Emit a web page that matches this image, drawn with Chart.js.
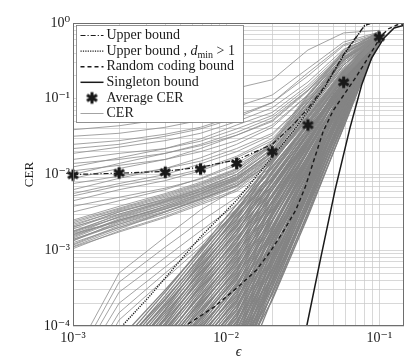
<!DOCTYPE html>
<html>
<head>
<meta charset="utf-8">
<script src="https://cdn.jsdelivr.net/npm/chart.js@4.4.1/dist/chart.umd.min.js"></script>
<style>
  html, body { margin: 0; padding: 0; background: #fff; }
</style>
</head>
<body>
<canvas id="cerChart" width="411" height="358"></canvas>
<script>
// erasure probabilities where the CER of each code was simulated
const epsPoints = [0.001, 0.002, 0.004, 0.0068, 0.0117, 0.02, 0.0342, 0.0585, 0.1];
const avgCer = [0.0098, 0.0105, 0.0107, 0.0118, 0.014, 0.020, 0.045, 0.165, 0.65];

// bounds
const upperX = [0.001, 0.002, 0.004, 0.0068, 0.01175, 0.02, 0.0273, 0.0342, 0.0444, 0.0597, 0.0802, 0.0891, 0.15];
const upperY = [0.0100, 0.0104, 0.0110, 0.0125, 0.0156, 0.025, 0.045, 0.074, 0.15, 0.41, 0.93, 1.0, 1.0];
const upperD2X = [0.001, 0.00209, 0.00312, 0.0068, 0.01175, 0.02, 0.0273, 0.0342, 0.0444, 0.0597, 0.0802, 0.0891, 0.15];
const upperD2Y = [1.8e-5, 1e-4, 2.4e-4, 1.5e-3, 4.6e-3, 0.017, 0.037, 0.068, 0.145, 0.40, 0.92, 1.0, 1.0];
const randomX = [0.002, 0.0054, 0.0084, 0.0118, 0.0158, 0.0197, 0.0245, 0.0285, 0.033, 0.038, 0.043, 0.05, 0.06, 0.07, 0.08, 0.093, 0.103, 0.115, 0.13, 0.15];
const randomY = [2.5e-5, 1e-4, 1.8e-4, 3.2e-4, 5.5e-4, 1e-3, 2e-3, 3.4e-3, 7e-3, 0.017, 0.037, 0.07, 0.12, 0.19, 0.29, 0.48, 0.68, 0.84, 0.94, 0.98];
const singletonX = [0.028, 0.0336, 0.0415, 0.0515, 0.0643, 0.0767, 0.0891, 0.107, 0.125, 0.15];
const singletonY = [1.8e-5, 1e-4, 8e-4, 6.3e-3, 0.041, 0.152, 0.345, 0.63, 0.86, 0.95];

// CER of individual codes (one row per code, values at epsPoints)
const cerUpper = [
  [0.039, 0.044, 0.054, 0.076, 0.138, 0.178, 0.44, 0.74, 0.8],
  [0.032, 0.035, 0.042, 0.052, 0.079, 0.112, 0.25, 0.56, 0.76],
  [0.025, 0.028, 0.034, 0.042, 0.06, 0.089, 0.2, 0.5, 0.71],
  [0.019, 0.023, 0.028, 0.035, 0.05, 0.076, 0.166, 0.45, 0.72],
  [0.0158, 0.019, 0.022, 0.0275, 0.04, 0.06, 0.14, 0.4, 0.68],
  [0.0126, 0.0166, 0.022, 0.0295, 0.045, 0.066, 0.15, 0.42, 0.69],
  [0.0112, 0.0132, 0.0158, 0.02, 0.028, 0.045, 0.112, 0.35, 0.66],
  [0.0089, 0.012, 0.0158, 0.022, 0.033, 0.05, 0.126, 0.38, 0.71],
  [0.0076, 0.0095, 0.012, 0.015, 0.022, 0.035, 0.095, 0.32, 0.65],
  [0.0063, 0.0089, 0.012, 0.0166, 0.025, 0.042, 0.112, 0.36, 0.72],
  [0.0052, 0.0071, 0.0091, 0.0117, 0.0174, 0.03, 0.089, 0.32, 0.68],
  [0.0045, 0.0063, 0.0083, 0.0112, 0.0166, 0.028, 0.079, 0.28, 0.63],
  [0.0038, 0.005, 0.0066, 0.0087, 0.0132, 0.024, 0.076, 0.3, 0.69],
  [0.0032, 0.0045, 0.0063, 0.0089, 0.014, 0.026, 0.089, 0.33, 0.71],
  [0.022, 0.025, 0.032, 0.04, 0.056, 0.089, 0.22, 0.52, 0.74],
  [0.01, 0.014, 0.019, 0.025, 0.036, 0.056, 0.13, 0.4, 0.69],
  [0.0056, 0.0076, 0.01, 0.0138, 0.02, 0.033, 0.1, 0.34, 0.66],
  [0.014, 0.0158, 0.019, 0.024, 0.033, 0.052, 0.13, 0.4, 0.71]
];
const cerBand = [
  [1.05e-3, 1.8e-3, 2.8e-3, 4.2e-3, 6.3e-3, 0.014, 0.056, 0.24, 0.63],
  [1.12e-3, 1.9e-3, 3.2e-3, 4.8e-3, 7.6e-3, 0.0166, 0.063, 0.28, 0.71],
  [1.2e-3, 2.1e-3, 3.2e-3, 4.6e-3, 7.1e-3, 0.0178, 0.079, 0.32, 0.66],
  [1.26e-3, 2e-3, 3e-3, 4.4e-3, 6.9e-3, 0.015, 0.05, 0.21, 0.6],
  [1.32e-3, 2.4e-3, 3.8e-3, 5.5e-3, 8.7e-3, 0.02, 0.089, 0.35, 0.76],
  [1.38e-3, 2.3e-3, 3.5e-3, 5e-3, 7.9e-3, 0.0174, 0.066, 0.26, 0.69],
  [1.45e-3, 2.5e-3, 3.7e-3, 5.2e-3, 7.6e-3, 0.0158, 0.06, 0.25, 0.63],
  [1.5e-3, 2.6e-3, 4e-3, 6e-3, 9.5e-3, 0.022, 0.095, 0.38, 0.79],
  [1.6e-3, 2.5e-3, 3.6e-3, 5.4e-3, 8.3e-3, 0.018, 0.071, 0.28, 0.68],
  [1.6e-3, 2.8e-3, 4.4e-3, 6.3e-3, 0.01, 0.024, 0.105, 0.4, 0.72],
  [1.7e-3, 2.75e-3, 4.2e-3, 5.8e-3, 8.7e-3, 0.019, 0.072, 0.3, 0.65],
  [1.74e-3, 3e-3, 4.5e-3, 6.5e-3, 0.01, 0.021, 0.083, 0.32, 0.74],
  [1.8e-3, 2.9e-3, 4.3e-3, 6e-3, 9.1e-3, 0.02, 0.076, 0.25, 0.62],
  [1.9e-3, 3.2e-3, 4.8e-3, 6.9e-3, 0.0107, 0.025, 0.11, 0.42, 0.78],
  [2e-3, 3.2e-3, 4.6e-3, 6.3e-3, 9.3e-3, 0.019, 0.069, 0.28, 0.68],
  [2.1e-3, 3.4e-3, 5e-3, 7.2e-3, 0.011, 0.024, 0.091, 0.35, 0.71],
  [2.2e-3, 3.3e-3, 4.7e-3, 6.6e-3, 0.01, 0.022, 0.089, 0.33, 0.66],
  [2.3e-3, 3.5e-3, 5.2e-3, 7.4e-3, 0.0115, 0.026, 0.11, 0.4, 0.76],
  [2.4e-3, 3.6e-3, 5.4e-3, 7.6e-3, 0.0117, 0.025, 0.1, 0.35, 0.69],
  [2.5e-3, 3.8e-3, 5.6e-3, 7.9e-3, 0.012, 0.0275, 0.115, 0.44, 0.74],
  [1.17e-3, 2e-3, 3.2e-3, 4.7e-3, 7.2e-3, 0.0158, 0.06, 0.23, 0.59],
  [1.4e-3, 2.2e-3, 3.3e-3, 4.7e-3, 7.1e-3, 0.0148, 0.052, 0.2, 0.575],
  [1.55e-3, 2.5e-3, 3.8e-3, 5.6e-3, 8.9e-3, 0.02, 0.083, 0.33, 0.71],
  [1.78e-3, 2.7e-3, 4e-3, 5.6e-3, 8.5e-3, 0.0174, 0.063, 0.24, 0.63],
  [1.1e-3, 1.74e-3, 2.7e-3, 4e-3, 6e-3, 0.0126, 0.05, 0.21, 0.6],
  [1.35e-3, 2.2e-3, 3.5e-3, 5.2e-3, 8.3e-3, 0.019, 0.079, 0.32, 0.69],
  [1.66e-3, 2.4e-3, 3.5e-3, 4.8e-3, 7.2e-3, 0.0145, 0.055, 0.22, 0.62],
  [2.04e-3, 3e-3, 4.4e-3, 6e-3, 9.1e-3, 0.02, 0.079, 0.32, 0.72]
];
const cerBetween = [
  [3.8e-5, 5e-4, 1.5e-3, 3.4e-3, 6.5e-3, 0.015, 0.055, 0.24, 0.66],
  [3e-5, 3.8e-4, 1.1e-3, 2.4e-3, 5e-3, 0.012, 0.048, 0.2, 0.63],
  [2.5e-5, 2.8e-4, 8e-4, 1.8e-3, 4e-3, 0.011, 0.045, 0.2, 0.62],
  [2e-5, 2e-4, 6e-4, 1.4e-3, 3.5e-3, 0.01, 0.042, 0.19, 0.6],
  [1.5e-5, 1.5e-4, 5e-4, 1.2e-3, 3.2e-3, 0.0105, 0.045, 0.21, 0.64],
  [1e-5, 1.2e-4, 4.2e-4, 1.1e-3, 3e-3, 0.01, 0.048, 0.22, 0.66]
];
const cerMassA = [
  [1e-5, 5.6e-5, 2.8e-4, 1.05e-3, 4.0e-3, 0.015, 0.055, 0.21, 0.76],
  [8.9e-6, 5e-5, 2.5e-4, 9.3e-4, 3.5e-3, 0.0129, 0.047, 0.18, 0.63],
  [7.9e-6, 4.5e-5, 2.2e-4, 8.3e-4, 3.2e-3, 0.0122, 0.047, 0.19, 0.71],
  [7e-6, 4e-5, 2e-4, 7.4e-4, 2.8e-3, 0.0106, 0.04, 0.158, 0.56],
  [6.3e-6, 3.5e-5, 1.8e-4, 6.6e-4, 2.5e-3, 0.0106, 0.045, 0.2, 0.79],
  [5.6e-6, 3.2e-5, 1.6e-4, 5.9e-4, 2.2e-3, 0.0093, 0.038, 0.17, 0.66],
  [5e-6, 2.8e-5, 1.4e-4, 5.2e-4, 2.0e-3, 0.0083, 0.035, 0.153, 0.6],
  [4.5e-6, 2.5e-5, 1.26e-4, 4.7e-4, 1.8e-3, 0.008, 0.036, 0.174, 0.74],
  [4e-6, 2.2e-5, 1.1e-4, 4.2e-4, 1.6e-3, 0.0072, 0.033, 0.158, 0.68],
  [3.5e-6, 2e-5, 1e-4, 3.7e-4, 1.4e-3, 0.0063, 0.0285, 0.136, 0.575],
  [3.2e-6, 1.8e-5, 8.9e-5, 3.3e-4, 1.26e-3, 0.0063, 0.031, 0.166, 0.78],
  [2.8e-6, 1.6e-5, 7.9e-5, 3e-4, 1.12e-3, 0.0055, 0.027, 0.14, 0.65],
  [2.5e-6, 1.4e-5, 7e-5, 2.6e-4, 1e-3, 0.0051, 0.0266, 0.147, 0.71],
  [2.2e-6, 1.26e-5, 6.3e-5, 2.3e-4, 8.9e-4, 0.0045, 0.023, 0.124, 0.59],
  [2e-6, 1.1e-5, 5.6e-5, 2.1e-4, 7.9e-4, 0.0044, 0.0245, 0.146, 0.76],
  [1.8e-6, 1e-5, 5e-5, 1.9e-4, 7.1e-4, 0.0039, 0.021, 0.124, 0.63],
  [1.6e-6, 8.9e-6, 4.5e-5, 1.66e-4, 6.3e-4, 0.0036, 0.021, 0.129, 0.69],
  [1.4e-6, 7.9e-6, 4e-5, 1.5e-4, 5.6e-4, 0.0032, 0.0178, 0.107, 0.56],
  [1.26e-6, 7e-6, 3.5e-5, 1.3e-4, 5e-4, 0.0032, 0.02, 0.136, 0.79],
  [1.1e-6, 6.3e-6, 3.2e-5, 1.2e-4, 4.5e-4, 0.0028, 0.0172, 0.115, 0.66],
  [1e-6, 5.6e-6, 2.8e-5, 1.05e-4, 4e-4, 0.0025, 0.0157, 0.106, 0.62],
  [8.9e-7, 5e-6, 2.5e-5, 9.3e-5, 3.5e-4, 0.0024, 0.016, 0.116, 0.72],
  [7.9e-7, 4.5e-6, 2.2e-5, 8.3e-5, 3.2e-4, 0.0021, 0.0146, 0.107, 0.68],
  [7e-7, 4e-6, 2e-5, 7.4e-5, 2.8e-4, 0.0019, 0.0127, 0.092, 0.575],
  [6.3e-7, 3.5e-6, 1.8e-5, 6.6e-5, 2.5e-4, 0.00186, 0.0138, 0.111, 0.76],
  [5.6e-7, 3.2e-6, 1.6e-5, 5.9e-5, 2.2e-4, 0.00164, 0.012, 0.095, 0.65],
  [5e-7, 2.8e-6, 1.4e-5, 5.2e-5, 2e-4, 0.00155, 0.0119, 0.1, 0.71],
  [4.5e-7, 2.5e-6, 1.26e-5, 4.7e-5, 1.8e-4, 0.00135, 0.0104, 0.086, 0.6],
  [4e-7, 2.2e-6, 1.1e-5, 4.2e-5, 1.6e-4, 0.0013, 0.0108, 0.098, 0.74],
  [3.5e-7, 2e-6, 1e-5, 3.7e-5, 1.4e-4, 0.00115, 0.0094, 0.084, 0.63],
  [3.2e-7, 1.8e-6, 8.9e-6, 3.3e-5, 1.26e-4, 0.00108, 0.0093, 0.0875, 0.69],
  [2.8e-7, 1.6e-6, 7.9e-6, 3e-5, 1.12e-4, 0.00094, 0.0079, 0.073, 0.56],
  [2.5e-7, 1.4e-6, 7e-6, 2.6e-5, 1e-4, 0.00093, 0.0088, 0.09, 0.78],
  [2.2e-7, 1.26e-6, 6.3e-6, 2.3e-5, 8.9e-5, 0.00083, 0.0077, 0.078, 0.66],
  [2e-7, 1.1e-6, 5.6e-6, 2.1e-5, 7.9e-5, 0.00074, 0.007, 0.072, 0.62],
  [1.8e-7, 1e-6, 5e-6, 1.9e-5, 7.1e-5, 0.00071, 0.0072, 0.079, 0.72],
  [1.6e-7, 8.9e-7, 4.5e-6, 1.66e-5, 6.3e-5, 0.00064, 0.0065, 0.073, 0.68],
  [1.4e-7, 7.9e-7, 4e-6, 1.5e-5, 5.6e-5, 0.00057, 0.0058, 0.064, 0.59],
  [1.26e-7, 7e-7, 3.5e-6, 1.3e-5, 5e-5, 0.00056, 0.0062, 0.075, 0.76],
  [1.1e-7, 6.3e-7, 3.2e-6, 1.2e-5, 4.5e-5, 0.00049, 0.0054, 0.065, 0.65],
  [1e-7, 5.6e-7, 2.8e-6, 1.05e-5, 4e-5, 0.00046, 0.0053, 0.068, 0.71],
  [8.9e-8, 5e-7, 2.5e-6, 9.3e-6, 3.5e-5, 0.00041, 0.0046, 0.058, 0.6],
  [7.9e-8, 4.5e-7, 2.2e-6, 8.3e-6, 3.2e-5, 0.00039, 0.0048, 0.066, 0.74],
  [7e-8, 4e-7, 2e-6, 7.4e-6, 2.8e-5, 0.00035, 0.0042, 0.057, 0.63],
  [6.3e-8, 3.5e-7, 1.8e-6, 6.6e-6, 2.5e-5, 0.00032, 0.0042, 0.059, 0.69],
  [5.6e-8, 3.2e-7, 1.6e-6, 5.9e-6, 2.2e-5, 0.00028, 0.0036, 0.05, 0.575],
  [5e-8, 2.8e-7, 1.4e-6, 5.2e-6, 2e-5, 0.00028, 0.0039, 0.062, 0.78],
  [4e-8, 2.2e-7, 1.1e-6, 4.2e-6, 1.6e-5, 0.00023, 0.0032, 0.051, 0.66]
];
const cerMassB = [
  [1.3e-5, 6.6e-5, 3e-4, 1e-3, 3.3e-3, 0.0158, 0.059, 0.22, 0.63],
  [1.05e-5, 5.2e-5, 2.3e-4, 7.9e-4, 2.6e-3, 0.0141, 0.058, 0.235, 0.72],
  [8.3e-6, 4.2e-5, 1.9e-4, 6.3e-4, 2.1e-3, 0.0112, 0.046, 0.187, 0.575],
  [6.6e-6, 3.3e-5, 1.5e-4, 5e-4, 1.66e-3, 0.0106, 0.049, 0.23, 0.79],
  [5.2e-6, 2.6e-5, 1.2e-4, 4e-4, 1.3e-3, 0.0086, 0.041, 0.194, 0.68],
  [4.2e-6, 2.1e-5, 9.3e-5, 3.2e-4, 1.05e-3, 0.007, 0.0345, 0.169, 0.6],
  [3.3e-6, 1.66e-5, 7.4e-5, 2.5e-4, 8.3e-4, 0.0064, 0.035, 0.19, 0.74],
  [2.6e-6, 1.3e-5, 5.9e-5, 2e-4, 6.6e-4, 0.0052, 0.029, 0.163, 0.65],
  [2.1e-6, 1.05e-5, 4.7e-5, 1.6e-4, 5.2e-4, 0.0044, 0.026, 0.153, 0.63],
  [1.66e-6, 8.3e-6, 3.7e-5, 1.26e-4, 4.2e-4, 0.0039, 0.025, 0.163, 0.72],
  [1.3e-6, 6.6e-6, 3e-5, 1e-4, 3.3e-4, 0.0031, 0.02, 0.129, 0.575],
  [1.05e-6, 5.2e-6, 2.3e-5, 7.9e-5, 2.6e-4, 0.0029, 0.0216, 0.16, 0.79],
  [8.3e-7, 4.2e-6, 1.9e-5, 6.3e-5, 2.1e-4, 0.0024, 0.0178, 0.134, 0.68],
  [6.6e-7, 3.3e-6, 1.5e-5, 5e-5, 1.66e-4, 0.0019, 0.0151, 0.117, 0.6],
  [5.2e-7, 2.6e-6, 1.2e-5, 4e-5, 1.3e-4, 0.00176, 0.0152, 0.132, 0.74],
  [4.2e-7, 2.1e-6, 9.3e-6, 3.2e-5, 1.05e-4, 0.00144, 0.0127, 0.113, 0.65],
  [3.3e-7, 1.66e-6, 7.4e-6, 2.5e-5, 8.3e-5, 0.0012, 0.0113, 0.106, 0.63],
  [2.6e-7, 1.3e-6, 5.9e-6, 2e-5, 6.6e-5, 0.00108, 0.011, 0.113, 0.72],
  [2.1e-7, 1.05e-6, 4.7e-6, 1.6e-5, 5.2e-5, 0.00086, 0.0087, 0.09, 0.575],
  [1.66e-7, 8.3e-7, 3.7e-6, 1.26e-5, 4.2e-5, 0.0008, 0.0094, 0.111, 0.79],
  [1.3e-7, 6.6e-7, 3e-6, 1e-5, 3.3e-5, 0.00065, 0.0078, 0.093, 0.68],
  [1.05e-7, 5.2e-7, 2.3e-6, 7.9e-6, 2.6e-5, 0.00053, 0.0066, 0.081, 0.6],
  [8.3e-8, 4.2e-7, 1.9e-6, 6.3e-6, 2.1e-5, 0.00048, 0.0066, 0.091, 0.74],
  [7e-8, 3.5e-7, 1.6e-6, 5.4e-6, 1.8e-5, 0.00041, 0.0057, 0.079, 0.65]
];
const cerMassC = [
  [4.7e-6, 3e-5, 1.66e-4, 7.1e-4, 2.95e-3, 8.8e-3, 0.0345, 0.15, 0.69],
  [3.7e-6, 2.3e-5, 1.3e-4, 5.6e-4, 2.35e-3, 7.1e-3, 0.0288, 0.13, 0.62],
  [3e-6, 1.9e-5, 1.05e-4, 4.5e-4, 1.86e-3, 6.2e-3, 0.0279, 0.141, 0.76],
  [2.3e-6, 1.5e-5, 8.3e-5, 3.5e-4, 1.48e-3, 5e-3, 0.0228, 0.118, 0.65],
  [1.86e-6, 1.2e-5, 6.6e-5, 2.8e-4, 1.17e-3, 4.2e-3, 0.0211, 0.12, 0.72],
  [1.48e-6, 9.3e-6, 5.2e-5, 2.2e-4, 9.3e-4, 3.4e-3, 0.017, 0.097, 0.59],
  [1.17e-6, 7.4e-6, 4.2e-5, 1.8e-4, 7.4e-4, 2.9e-3, 0.0159, 0.1, 0.68],
  [9.3e-7, 5.9e-6, 3.3e-5, 1.4e-4, 5.9e-4, 2.5e-3, 0.015, 0.106, 0.79],
  [7.4e-7, 4.7e-6, 2.6e-5, 1.12e-4, 4.7e-4, 2e-3, 0.0126, 0.09, 0.69],
  [5.9e-7, 3.7e-6, 2.1e-5, 8.9e-5, 3.7e-4, 1.64e-3, 0.0105, 0.077, 0.62],
  [4.7e-7, 3e-6, 1.66e-5, 7.1e-5, 2.95e-4, 1.42e-3, 0.0101, 0.084, 0.76],
  [3.7e-7, 2.3e-6, 1.3e-5, 5.6e-5, 2.35e-4, 1.14e-3, 8.3e-3, 0.07, 0.65],
  [3e-7, 1.86e-6, 1.05e-5, 4.5e-5, 1.86e-4, 9.7e-4, 7.7e-3, 0.072, 0.72],
  [2.3e-7, 1.48e-6, 8.3e-6, 3.5e-5, 1.48e-4, 7.8e-4, 6.2e-3, 0.058, 0.59],
  [1.86e-7, 1.17e-6, 6.6e-6, 2.8e-5, 1.17e-4, 6.6e-4, 5.8e-3, 0.06, 0.68],
  [1.48e-7, 9.3e-7, 5.2e-6, 2.2e-5, 9.3e-5, 5.7e-4, 5.5e-3, 0.063, 0.79],
  [1.17e-7, 7.4e-7, 4.2e-6, 1.8e-5, 7.4e-5, 4.6e-4, 4.5e-3, 0.054, 0.69],
  [9.3e-8, 5.9e-7, 3.3e-6, 1.4e-5, 5.9e-5, 3.75e-4, 3.8e-3, 0.046, 0.62],
  [7.4e-8, 4.7e-7, 2.6e-6, 1.12e-5, 4.7e-5, 3.25e-4, 3.7e-3, 0.05, 0.76],
  [5.9e-8, 3.7e-7, 2.1e-6, 8.9e-6, 3.7e-5, 2.6e-4, 3e-3, 0.042, 0.65],
  [4.7e-8, 3e-7, 1.66e-6, 7.1e-6, 2.95e-5, 2.2e-4, 2.8e-3, 0.043, 0.72]
];

// axes
const xMajors = [0.001, 0.01, 0.1];
const xMajorLabels = ['10⁻³', '10⁻²', '10⁻¹'];
const yMajors = [1e-4, 1e-3, 1e-2, 1e-1, 1];
const yMajorLabels = ['10⁻⁴', '10⁻³', '10⁻²', '10⁻¹', '10⁰'];
const legendLabels = ['Upper bound', 'Upper bound , d_min > 1', 'Random coding bound', 'Singleton bound', 'Average CER', 'CER'];

const SERIF = '"Liberation Serif", "DejaVu Serif", serif';
const INK = '#1a1a1a';
const CER_GRAY = 'rgb(140,140,140)';
const MASS_GRAY = 'rgb(132,132,132)';

// grid positions: 1..9 times each power of ten
function logGrid(majors, max) {
  const out = [];
  majors.forEach(m => {
    out.push(m);
    for (let k = 2; k <= 9; k++) if (k * m <= max) out.push(k * m);
  });
  return out.filter(v => v <= max);
}
const xGrid = logGrid(xMajors, 0.145);
const yGrid = logGrid(yMajors, 1);

function toPoints(xs, ys) {
  return xs.map((x, i) => ({ x: x, y: ys[i] }));
}

// bold six-armed asterisk used as point marker
function makeAsterisk(r, w) {
  const c = document.createElement('canvas');
  const s = Math.ceil(2 * r + w + 2);
  c.width = s; c.height = s;
  const g = c.getContext('2d');
  g.translate(s / 2, s / 2);
  g.strokeStyle = INK;
  g.lineWidth = w;
  for (let k = 0; k < 3; k++) {
    const a = Math.PI / 2 + k * Math.PI / 3;
    g.beginPath();
    g.moveTo(-r * Math.cos(a), -r * Math.sin(a));
    g.lineTo(r * Math.cos(a), r * Math.sin(a));
    g.stroke();
  }
  return c;
}
const asterisk = makeAsterisk(5.8, 3);

const boundStyles = [
  { dash: [5, 2, 1.2, 2], width: 1.2 },
  { dash: [1.2, 1.2], width: 1.4 },
  { dash: [4, 3], width: 1.4 },
  { dash: [], width: 1.5 }
];

function cerSet(rows, width, color) {
  return rows.map(row => ({
    label: 'CER',
    data: toPoints(epsPoints, row),
    borderColor: color,
    borderWidth: width,
    pointRadius: 0,
    tension: 0,
    order: 3
  }));
}
const cerDatasets = [].concat(
  cerSet(cerUpper, 0.8, CER_GRAY), cerSet(cerBand, 0.8, CER_GRAY), cerSet(cerBetween, 0.8, CER_GRAY),
  cerSet(cerMassA, 1.3, MASS_GRAY), cerSet(cerMassB, 1.3, MASS_GRAY), cerSet(cerMassC, 1.3, MASS_GRAY)
);

const boundData = [
  [upperX, upperY], [upperD2X, upperD2Y], [randomX, randomY], [singletonX, singletonY]
];
const boundDatasets = boundData.map((b, i) => ({
  label: legendLabels[i],
  data: toPoints(b[0], b[1]),
  borderColor: INK,
  borderWidth: boundStyles[i].width,
  borderDash: boundStyles[i].dash,
  pointRadius: 0,
  tension: 0,
  order: 1
}));

const avgDataset = {
  label: 'Average CER',
  data: toPoints(epsPoints, avgCer),
  showLine: false,
  pointStyle: asterisk,
  pointRadius: 6,
  clip: false,
  order: 0
};

// frame and legend drawn inside the plot area
const insideLegend = {
  id: 'insideLegend',
  afterDatasetsDraw(chart) {
    const ctx = chart.ctx;
    const a = chart.chartArea;
    ctx.save();
    ctx.strokeStyle = '#6e6e6e';
    ctx.lineWidth = 1;
    ctx.setLineDash([]);
    ctx.strokeRect(a.left + 0.5, a.top + 0.5, a.right - a.left - 1, a.bottom - a.top - 1);

    const bx = a.left + 3.5, by = a.top + 2.5, bw = 167, bh = 97;
    ctx.fillStyle = '#fff';
    ctx.fillRect(bx, by, bw, bh);
    ctx.strokeStyle = '#777';
    ctx.lineWidth = 0.8;
    ctx.strokeRect(bx, by, bw, bh);

    ctx.textBaseline = 'middle';
    ctx.fillStyle = INK;
    legendLabels.forEach((lab, i) => {
      const y = by + 10 + i * 15.6;
      const x0 = bx + 4, x1 = bx + 27, tx = bx + 30;
      if (i < 4) {
        ctx.strokeStyle = INK;
        ctx.lineWidth = boundStyles[i].width;
        ctx.setLineDash(boundStyles[i].dash);
        ctx.beginPath(); ctx.moveTo(x0, y); ctx.lineTo(x1, y); ctx.stroke();
        ctx.setLineDash([]);
      } else if (i === 4) {
        ctx.drawImage(asterisk, (x0 + x1) / 2 - asterisk.width / 2, y - asterisk.height / 2);
      } else {
        ctx.strokeStyle = CER_GRAY;
        ctx.lineWidth = 0.8;
        ctx.beginPath(); ctx.moveTo(x0, y); ctx.lineTo(x1, y); ctx.stroke();
      }
      if (i === 1) {
        let x = tx;
        const head = 'Upper bound , ';
        ctx.font = '14px ' + SERIF;
        ctx.fillText(head, x, y); x += ctx.measureText(head).width;
        ctx.font = 'italic 14px ' + SERIF;
        ctx.fillText('d', x, y); x += ctx.measureText('d').width;
        ctx.font = '10px ' + SERIF;
        ctx.fillText('min', x, y + 4); x += ctx.measureText('min').width;
        ctx.font = '14px ' + SERIF;
        ctx.fillText(' > 1', x, y);
      } else {
        ctx.font = '14px ' + SERIF;
        ctx.fillText(lab, tx, y);
      }
    });
    ctx.restore();
  }
};

const tickFont = { family: SERIF, size: 14 };
const gridStyle = { color: 'rgba(200,200,200,0.9)', lineWidth: 0.8, drawTicks: false };

new Chart(document.getElementById('cerChart').getContext('2d'), {
  type: 'line',
  data: { datasets: [avgDataset].concat(boundDatasets, cerDatasets) },
  options: {
    responsive: false,
    animation: false,
    devicePixelRatio: 1,
    layout: { padding: { top: 23, right: 1, left: 0, bottom: 0 } },
    plugins: { legend: { display: false }, tooltip: { enabled: false } },
    scales: {
      x: {
        type: 'logarithmic',
        min: 0.001,
        max: 0.145,
        afterBuildTicks: s => { s.ticks = xGrid.map(v => ({ value: v })); },
        afterFit: s => { s.height = 32; },
        grid: gridStyle,
        border: { display: false },
        ticks: {
          autoSkip: false, maxRotation: 0, padding: 4, color: INK, font: tickFont,
          callback: v => { const i = xMajors.indexOf(v); return i >= 0 ? xMajorLabels[i] : ''; }
        },
        title: { display: true, text: 'ϵ', color: INK, font: { family: SERIF, size: 14, style: 'italic' }, padding: { top: 0, bottom: -3 } }
      },
      y: {
        type: 'logarithmic',
        min: 1e-4,
        max: 1,
        afterBuildTicks: s => { s.ticks = yGrid.map(v => ({ value: v })); },
        afterFit: s => { s.width = 73; },
        grid: gridStyle,
        border: { display: false },
        ticks: {
          autoSkip: false, padding: 3, color: INK, font: tickFont,
          callback: v => { const i = yMajors.indexOf(v); return i >= 0 ? yMajorLabels[i] : ''; }
        },
        title: { display: true, text: 'CER', color: INK, font: { family: SERIF, size: 13 }, padding: { top: 22, bottom: 0 } }
      }
    }
  },
  plugins: [insideLegend]
});
</script>
</body>
</html>
